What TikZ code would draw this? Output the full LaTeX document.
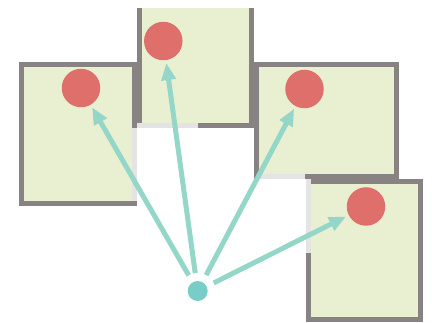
\documentclass[tikz,border=0pt]{standalone}
\usetikzlibrary{arrows.meta}
\definecolor{wallc}{RGB}{137,130,130}
\definecolor{roomc}{RGB}{233,240,209}
\definecolor{doorc}{RGB}{228,228,228}
\definecolor{redc}{RGB}{222,111,107}
\definecolor{srcc}{RGB}{122,204,200}
\definecolor{arrc}{RGB}{148,214,200}
\tikzset{
  room/.style={fill=roomc},
  wall/.style={draw=wallc,line width=5pt,line join=miter,line cap=butt},
  door/.style={draw=doorc,line width=5pt,line cap=butt},
  target/.style={circle,fill=redc,minimum size=38.5pt,inner sep=0pt,outer sep=0pt},
  source/.style={circle,fill=srcc,minimum size=20pt,inner sep=0pt,outer sep=0pt},
  ray/.style={draw=arrc,line width=5pt,-{Triangle[length=17pt,width=14pt]},shorten <=8pt,shorten >=3pt}
}
\begin{document}
\begin{tikzpicture}[x=1pt,y=-1pt]
\useasboundingbox (0,0) rectangle (432,323);
% room 1
\fill[room] (21.5,64.5) rectangle (134.5,203.5);
\draw[wall] (134.5,128) -- (134.5,64.5) -- (21.5,64.5) -- (21.5,203.5) -- (137,203.5);
\draw[door] (134.5,128) -- (134.5,201);
% room 2
\fill[room] (139.5,8) rectangle (251.5,125.5);
\draw[wall] (139.5,8) -- (139.5,125.5) -- (251.5,125.5) -- (251.5,8);
\draw[door] (137,125.5) -- (198,125.5);
% room 3
\fill[room] (256.5,64.5) rectangle (396.5,176.5);
\draw[wall] (256.5,179) -- (256.5,64.5) -- (396.5,64.5) -- (396.5,176.5) -- (254,176.5);
\draw[door] (259,176.5) -- (305,176.5);
% room 4
\fill[room] (308.5,181.5) rectangle (420.5,319.5);
\draw[wall] (308.5,181.5) rectangle (420.5,319.5);
\draw[door] (308.5,179) -- (308.5,253);
% targets
\node[target] (t1) at (81,88) {};
\node[target] (t2) at (163.3,41) {};
\node[target] (t3) at (304.5,89) {};
\node[target] (t4) at (366,206.5) {};
\node[source] (s) at (197.7,291) {};
\draw[ray] (s) -- (t1);
\draw[ray] (s) -- (t2);
\draw[ray] (s) -- (t3);
\draw[ray] (s) -- (t4);
\end{tikzpicture}
\end{document}
